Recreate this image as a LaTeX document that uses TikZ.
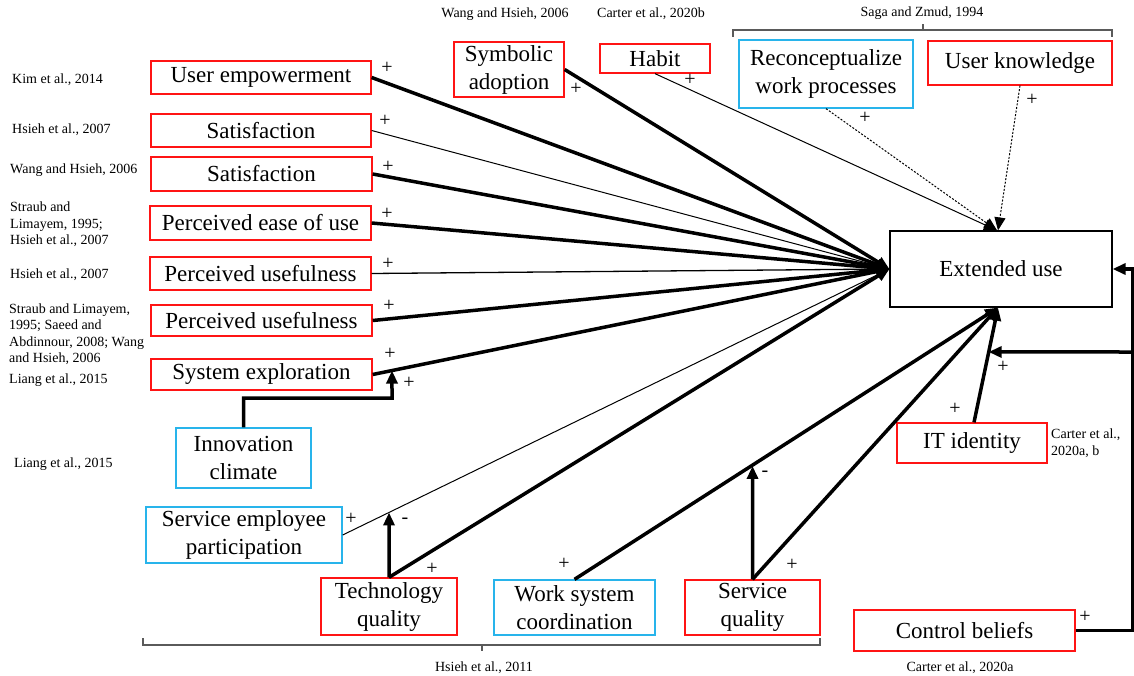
\documentclass[tikz,border=0pt]{standalone}
\usepackage{fontspec}
\setmainfont{LiberationSerif}[Extension=.ttf, UprightFont=*-Regular, BoldFont=*-Bold]
\usetikzlibrary{arrows.meta}
\definecolor{bred}{RGB}{255,20,20}
\definecolor{bblue}{RGB}{40,180,235}
\definecolor{bracketgray}{RGB}{90,90,90}

\tikzset{
  box/.style={draw, line width=1.3pt, inner sep=0pt, align=center,
              font=\rmfamily\fontsize{23}{28}\selectfont},
  redbox/.style={box, draw=bred},
  bluebox/.style={box, draw=bblue},
  cite/.style={font=\rmfamily\fontsize{14}{16.5}\selectfont, inner sep=0pt, align=left},
  citec/.style={font=\rmfamily\fontsize{14}{16.5}\selectfont, inner sep=0pt, align=center},
  sign/.style={font=\rmfamily\fontsize{20}{20}\selectfont, inner sep=0pt},
  heavy/.style={line width=3.5pt},
  light/.style={line width=1pt},
  dotlink/.style={line width=1pt, dash pattern=on 2pt off 1.6pt},
  tip/.style={-{Triangle[length=13pt,width=11pt]}},
  brack/.style={draw=bracketgray, line width=1.5pt},
}

\begin{document}
\begin{tikzpicture}[x=1pt,y=-1pt]
\useasboundingbox (0,0) rectangle (1134,676);

% ---- central construct ----
\node[box, draw=black, line width=1.2pt, minimum width=222pt, minimum height=76pt] (eu) at (1001,269) {Extended use};

% ---- left column of antecedents ----
\node[redbox, minimum width=220pt, minimum height=33pt] (ue)   at (261,77.5)  {User empowerment};
\node[redbox, minimum width=220pt, minimum height=33pt] (sat1) at (261,130.5) {Satisfaction};
\node[redbox, minimum width=221pt, minimum height=34pt] (sat2) at (261.5,174) {Satisfaction};
\node[redbox, minimum width=221pt, minimum height=34pt] (peou) at (260.5,223) {Perceived ease of use};
\node[redbox, minimum width=221pt, minimum height=33pt] (pu1)  at (260.5,273.5) {Perceived usefulness};
\node[redbox, minimum width=221pt, minimum height=31pt] (pu2)  at (261.5,320.5) {Perceived usefulness};
\node[redbox, minimum width=221pt, minimum height=31pt] (se)   at (261.5,374.5) {System exploration};
\node[bluebox, minimum width=135pt, minimum height=60pt] (ic)  at (243.5,458) {Innovation\\climate};
\node[bluebox, minimum width=196pt, minimum height=56pt] (sep) at (244,535) {Service employee\\participation};

% ---- bottom row ----
\node[redbox, minimum width=136pt, minimum height=57pt] (tq)  at (389,606.5) {Technology\\quality};
\node[bluebox, minimum width=161pt, minimum height=55pt] (wsc) at (574.5,607.5) {Work system\\coordination};
\node[redbox, minimum width=135pt, minimum height=55pt] (sq)  at (752.5,607.5) {Service\\quality};
\node[redbox, minimum width=221pt, minimum height=41pt] (cb)  at (964.5,630.5) {Control beliefs};
\node[redbox, minimum width=150pt, minimum height=40pt] (it)  at (972,443) {IT identity};

% ---- top row ----
\node[redbox, minimum width=110pt, minimum height=55pt] (sa)  at (509,69.5) {Symbolic\\adoption};
\node[redbox, minimum width=110pt, minimum height=29pt] (hab) at (655,58.5) {Habit};
\node[bluebox, minimum width=174pt, minimum height=68pt] (rw) at (826,74) {Reconceptualize\\work processes};
\node[redbox, minimum width=184pt, minimum height=44pt] (uk)  at (1020,63) {User knowledge};

% ---- citations ----
\node[cite, anchor=west] (c1) at (12,80)    {Kim et al., 2014};
\node[cite, anchor=west] (c2) at (12,130)   {Hsieh et al., 2007};
\node[cite, anchor=west] (c3) at (10,170)   {Wang and Hsieh, 2006};
\node[cite, anchor=west] (c4) at (10,224.5) {Straub and\\Limayem, 1995;\\Hsieh et al., 2007};
\node[cite, anchor=west] (c5) at (10,275)   {Hsieh et al., 2007};
\node[cite, anchor=west] (c6) at (9,334)    {Straub and Limayem,\\1995; Saeed and\\Abdinnour, 2008; Wang\\and Hsieh, 2006};
\node[cite, anchor=west] (c7) at (9,380)    {Liang et al., 2015};
\node[cite, anchor=west] (c8) at (14,464)   {Liang et al., 2015};
\node[citec] (c9)  at (505,14)  {Wang and Hsieh, 2006};
\node[citec] (c10) at (651,14)  {Carter et al., 2020b};
\node[citec] (c11) at (922,13)  {Saga and Zmud, 1994};
\node[citec] (c12) at (484,668) {Hsieh et al., 2011};
\node[citec] (c13) at (960,668) {Carter et al., 2020a};
\node[cite, anchor=west] (c14) at (1051,443) {Carter et al.,\\2020a, b};

% ---- brackets grouping constructs ----
\draw[brack] (733,37) -- (733,30) -- (1112,30) -- (1112,37);
\draw[brack] (923,30) -- (923,24);
\draw[brack] (143,638) -- (143,645) -- (820,645) -- (820,638);
\draw[brack] (482,645) -- (482,651);

% ---- direct effects on extended use ----
\draw[heavy, tip] (ue.east)   -- (eu.west);
\draw[light, tip] (sat1.east) -- (eu.west);
\draw[heavy, tip] (sat2.east) -- (eu.west);
\draw[heavy, tip] (peou.east) -- (eu.west);
\draw[line width=1.3pt, tip] (pu1.east) -- (eu.west);
\draw[heavy, tip] (pu2.east)  -- (eu.west);
\draw[heavy, tip] (se.east)   -- (eu.west);
\draw[light, tip] (sep.east)  -- (eu.west);
\draw[heavy, tip] (tq.north)  -- (eu.west);
\draw[heavy, tip] (sa.east)   -- (eu.west);
\draw[light, tip] (hab.south) -- ([xshift=-4pt]eu.north);
\draw[dotlink, tip] (rw.south) -- ([xshift=-4pt]eu.north);
\draw[dotlink, tip] (uk.south) -- ([xshift=-3pt]eu.north);
\draw[heavy, tip] (wsc.north) -- ([xshift=-3pt]eu.south);
\draw[heavy, tip] (sq.north)  -- ([xshift=-3pt]eu.south);
\draw[heavy, tip] ([xshift=2pt]it.north) -- ([xshift=-3pt]eu.south);

% ---- moderating effects ----
\coordinate (icturn) at (392,398);
\coordinate (icup) at (392,300);
\draw[heavy, tip] (ic.north) |- (icturn) -- (intersection of se.east--eu.west and icturn--icup);
\draw[heavy, tip] (tq.north) -- (intersection of sep.east--eu.west and tq.north--tq.south);
\draw[heavy, tip] (sq.north) -- (intersection of wsc.north--eu.south and sq.north--sq.south);

% ---- control beliefs feedback paths ----
\coordinate (cbcorner) at (1133,630.5);
\coordinate (cbjoin) at (1133,352);
\coordinate (cbleft) at (950,352);
\coordinate (ittop) at (974,423);
\coordinate (eubot) at (998,307);
\draw[heavy, tip] (cb.east) -- (cbcorner) |- (eu.east);
\draw[heavy, tip] (cbjoin) -- (intersection of ittop--eubot and cbjoin--cbleft);

% ---- signs ----
\node[sign] (s1)  at (387,68)  {+};
\node[sign] (s2)  at (385,121) {+};
\node[sign] (s3)  at (388,167) {+};
\node[sign] (s4)  at (387,214) {+};
\node[sign] (s5)  at (388,264) {+};
\node[sign] (s6)  at (389,306) {+};
\node[sign] (s7)  at (390,354) {+};
\node[sign] (s8)  at (409,383) {+};
\node[sign] (s9)  at (576,89)  {+};
\node[sign] (s10) at (690,80)  {+};
\node[sign] (s11) at (865,118) {+};
\node[sign] (s12) at (1032,100) {+};
\node[sign] (s13) at (351,519) {+};
\node[sign] (s14) at (405,521) {-};
\node[sign] (s15) at (432,569) {+};
\node[sign] (s16) at (564,564) {+};
\node[sign] (s17) at (765,474) {-};
\node[sign] (s18) at (792,565) {+};
\node[sign] (s19) at (955,409) {+};
\node[sign] (s20) at (1003,367) {+};
\node[sign] (s21) at (1085,617) {+};
\end{tikzpicture}
\end{document}
